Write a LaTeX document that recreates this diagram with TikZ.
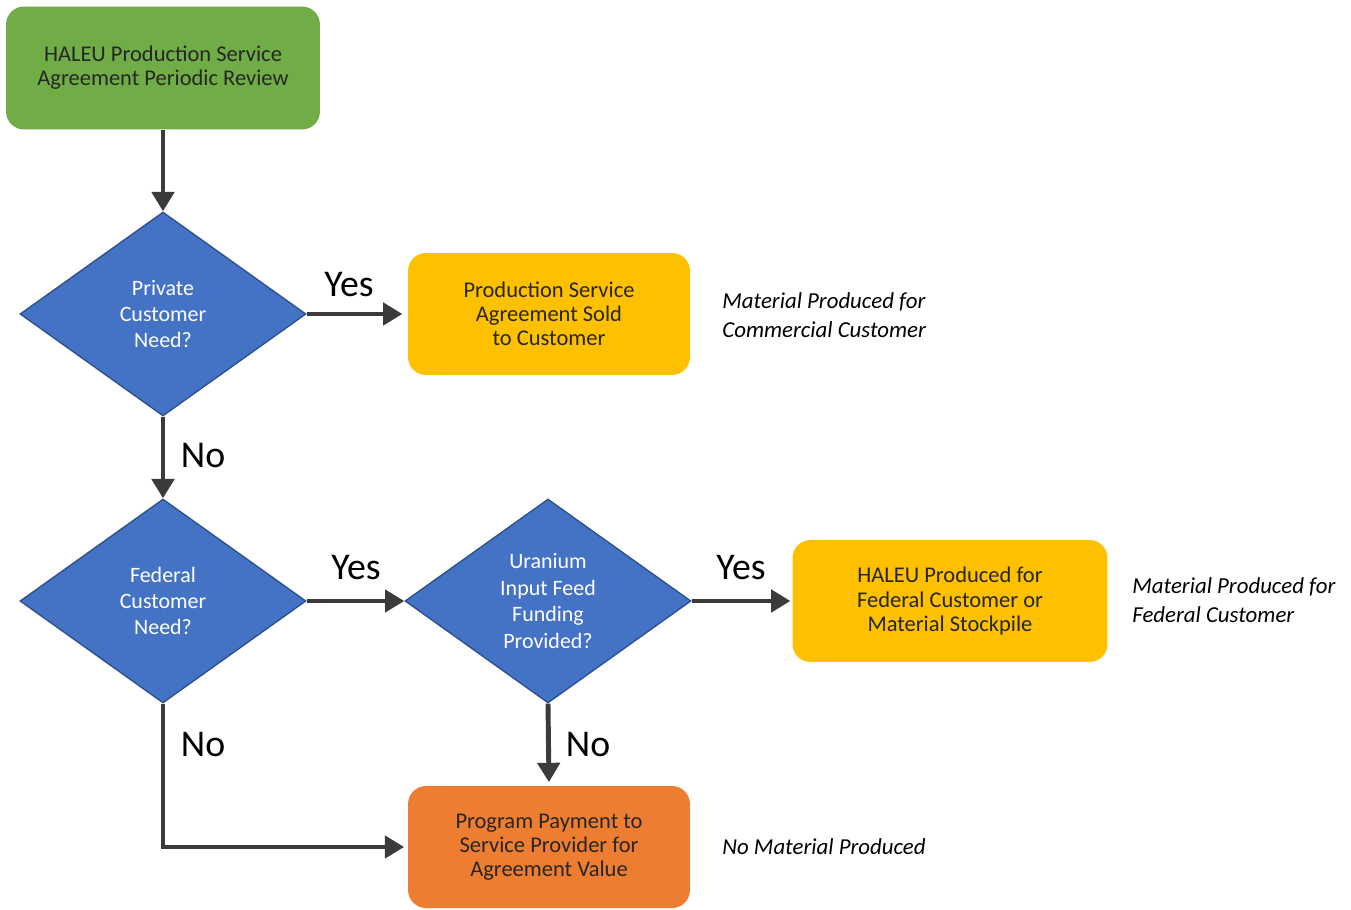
\documentclass[tikz,border=0pt]{standalone}
\usepackage{fontspec}
\setmainfont{Carlito}
\usetikzlibrary{shapes.geometric,arrows.meta}
\definecolor{boxgreen}{HTML}{70AD47}
\definecolor{boxyellow}{HTML}{FFC000}
\definecolor{boxorange}{HTML}{ED7D31}
\definecolor{qblue}{HTML}{4472C4}
\definecolor{qedge}{HTML}{2F528F}
\definecolor{flowgray}{HTML}{3B3B3B}
\definecolor{boxtext}{HTML}{262626}
\begin{document}
\begin{tikzpicture}[x=0.02cm,y=-0.02cm]
\tikzstyle{every node}+=[inner sep=0pt]
\tikzstyle{stepbox}=[rectangle, rounded corners=0.36cm, minimum width=5.64cm, minimum height=2.44cm, align=center, text=boxtext, font=\fontsize{12.8}{13.8}\selectfont]
\tikzstyle{query}=[diamond, aspect=1.4, minimum width=5.72cm, minimum height=4.08cm, fill=qblue, draw=qedge, line width=0.8pt, text=white, align=center, font=\fontsize{12.5}{15}\selectfont]
\tikzstyle{flow}=[draw=flowgray, line width=2.8pt, -{Triangle[length=11pt,width=12.5pt]}]
\tikzstyle{answer}=[font=\fontsize{21.5}{24}\selectfont]
\tikzstyle{remark}=[anchor=west, align=left, font=\itshape\fontsize{13}{16.4}\selectfont]
\useasboundingbox (0,0) rectangle (1351,909);
% boxes and questions
\node [stepbox, fill=boxgreen, minimum width=6.28cm, minimum height=2.46cm] (review) at (163,68) {HALEU Production Service\\Agreement Periodic Review};
\node [query] (private) at (163,314) {Private\\Customer\\Need?};
\node [stepbox, fill=boxyellow] (sold) at (549,314) {Production Service\\Agreement Sold\\to Customer};
\node [query] (federal) at (163,601) {Federal\\Customer\\Need?};
\node [query] (uranium) at (548,601) {Uranium\\Input Feed\\Funding\\Provided?};
\node [stepbox, fill=boxyellow, minimum width=6.3cm] (stockpile) at (950,601) {HALEU Produced for\\Federal Customer or\\Material Stockpile};
\node [stepbox, fill=boxorange] (payment) at (549,847) {Program Payment to\\Service Provider for\\Agreement Value};
% remarks
\node [remark] (commercial) at (722,315) {Material Produced for\\Commercial Customer};
\node [remark] (fedmaterial) at (1132,600) {Material Produced for\\Federal Customer};
\node [remark] (nomaterial) at (722,847) {No Material Produced};
% connectors
\draw [flow] (review.south) -- (private.north);
\draw [flow, shorten >=3pt] (private.east) -- (sold.west);
\draw [flow] (private.south) -- (federal.north);
\draw [flow] (federal.east) -- (uranium.west);
\draw [flow, shorten >=1pt] (uranium.east) -- (stockpile.west);
\draw [flow, shorten >=2pt] (uranium.south) -- (payment.north);
\draw [flow, shorten >=2pt] (federal.south) |- (payment.west);
% answers
\node [answer] (yes1) at (349,285) {Yes};
\node [answer] (no1) at (203,456) {No};
\node [answer] (yes2) at (356,568) {Yes};
\node [answer] (yes3) at (741,568) {Yes};
\node [answer] (no2) at (203,744) {No};
\node [answer] (no3) at (588,744) {No};
\end{tikzpicture}
\end{document}
